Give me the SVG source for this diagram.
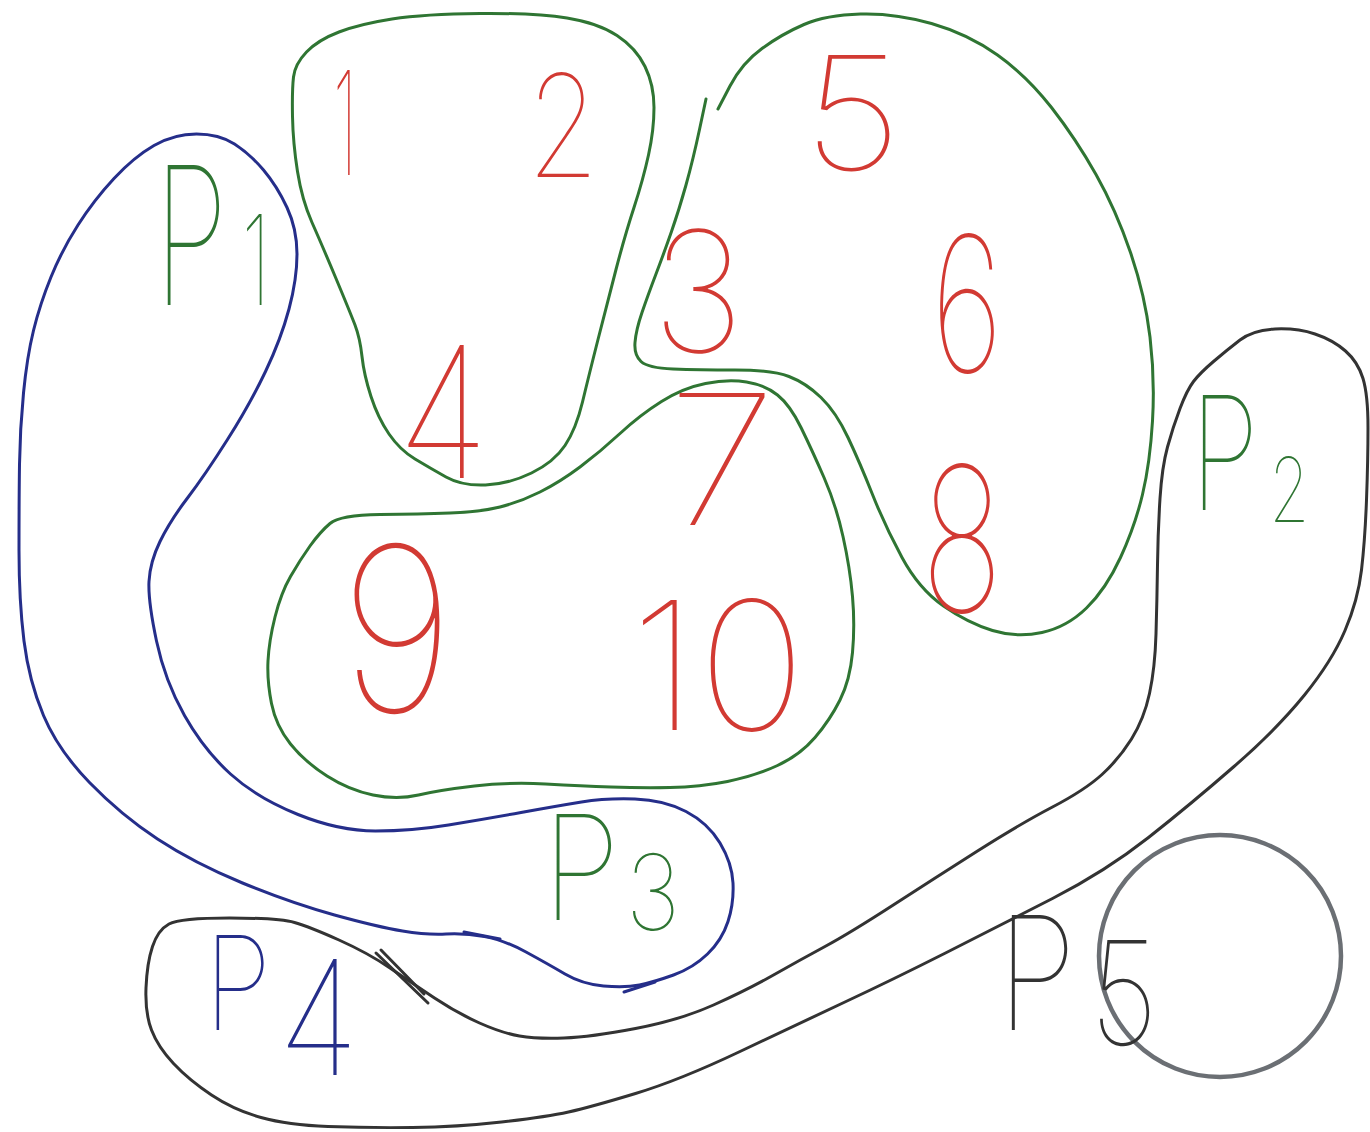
<svg xmlns="http://www.w3.org/2000/svg" width="1370" height="1132" viewBox="0 0 1370 1132">
<style>
.bg{fill:#ffffff}
.ln{fill:none;stroke-width:3;stroke-linecap:round;stroke-linejoin:round}
.green{stroke:#2f7533}
.blue{stroke:#252e8a}
.black{stroke:#333333}
.gray{fill:none;stroke:#6b6f74;stroke-width:4.5}
.t{font-family:"Inter","Lato","Open Sans",sans-serif;font-weight:100}
.red{fill:#d23a33}
.tg{fill:#2f7533}
.tb{fill:#252e8a}
.tk{fill:#333333}
</style>
<rect class="bg" x="0" y="0" width="1370" height="1132"/>
<g id="hyperedges">
  <g id="edge-1-2-4">
    <path class="ln green" d="M293.5,77 Q295,64 306.5,52 Q318,40 339,32 Q360,24 392,19 Q424,14 480,13.5 Q536,13 567,18 Q598,23 617,35.5 Q636,48 645,66.5 Q654,85 654,107.5 Q654,130 648.5,155 Q643,180 634,207.5 Q625,235 616,269.5 Q607,304 598,339.5 Q589,375 582.5,402 Q576,429 565,445.5 Q554,462 531.5,473 Q509,484 485.5,485 Q462,486 446,477 Q430,468 415,459 Q400,450 389,434 Q378,418 371,396.5 Q364,375 362,356.5 Q360,338 355,325 Q350,312 336,278.5 Q322,245 312,222.5 Q302,200 297.5,171.5 Q293,143 292.5,116.5 Q292,90 293.5,77 Z"/>
  </g>
  <g id="edge-3-5-6-8">
    <path class="ln green" d="M706,99 L699.5,129.5 Q693,160 686,185 Q679,210 671.5,231.5 Q664,253 656,274 Q648,295 642,312.5 Q636,330 635,342.5 Q634,355 641,361.5 Q648,368 673,369 Q698,370 735,370 Q772,370 789,376.5 Q806,383 821,397.5 Q836,412 848,437.5 Q860,463 872.5,494.5 Q885,526 902,557.5 Q919,589 943.5,606 Q968,623 992.5,630.5 Q1017,638 1042,632.5 Q1067,627 1086.5,608 Q1106,589 1120.5,557.5 Q1135,526 1142.5,494.5 Q1150,463 1152.5,421 Q1155,379 1150,337 Q1145,295 1130.5,252.5 Q1116,210 1096,174.5 Q1076,139 1051.5,107.5 Q1027,76 997.5,55 Q968,34 931.5,23.5 Q895,13 860.5,14 Q826,15 804,24.5 Q782,34 762,48.5 Q742,63 730,86 L718,109"/>
  </g>
  <g id="edge-7-9-10">
    <path class="ln green" d="M330,523.5 Q340,515 380,514.5 Q420,514 450,513 Q480,512 500,507 Q520,502 540,492 Q560,482 580,467 Q600,452 620,433.5 Q640,415 661.5,401.5 Q683,388 705.5,383.5 Q728,379 746.5,382 Q765,385 777.5,395 Q790,405 801,427.5 Q812,450 824,477.5 Q836,505 843,536.5 Q850,568 852.5,596.5 Q855,625 852.5,652.5 Q850,680 840,700 Q830,720 815,737.5 Q800,755 777.5,765.5 Q755,776 727.5,781.5 Q700,787 670,787.5 Q640,788 611,787 Q582,786 545.5,784 Q509,782 474.5,786 Q440,790 418.5,795 Q397,800 373,795 Q349,790 327,776 Q305,762 290.5,744 Q276,726 271.5,703.5 Q267,681 268,661 Q269,641 275,617 Q281,593 290.5,576.5 Q300,560 310,546 Q320,532 330,523.5 Z"/>
  </g>
  <g id="edge-P1-P3">
    <path class="ln blue" d="M154,145.5 Q174,134 196.5,134 Q219,134 234.5,144 Q250,154 263.5,170 Q277,186 287,207.5 Q297,229 297,254 Q297,279 289,309 Q281,339 265.5,371.5 Q250,404 227.5,439.5 Q205,475 187.5,498 Q170,521 160,541.5 Q150,562 149,581.5 Q148,601 156.5,641 Q165,681 184.5,715.5 Q204,750 230.5,774 Q257,798 298,814.5 Q339,831 375.5,831 Q412,831 448.5,825 Q485,819 521,812.5 Q557,806 581.5,802 Q606,798 635,799 Q664,800 686,811.5 Q708,823 720,843 Q732,863 733,883 Q734,903 728,921.5 Q722,940 707.5,954 Q693,968 673.5,975 Q654,982 639.5,985 Q625,988 603.5,986 Q582,984 565,974 Q548,964 526,952 Q504,940 484.5,936.5 Q465,933 446,934 Q427,935 402.5,931 Q378,927 334.5,915 Q291,903 242.5,883 Q194,863 157.5,839 Q121,815 89.5,782.5 Q58,750 43.5,715.5 Q29,681 24,641 Q19,601 19,550.5 Q19,500 19.5,464.5 Q20,429 23.5,393 Q27,357 33.5,330.5 Q40,304 51,277 Q62,250 78,225 Q94,200 114,178.5 Q134,157 154,145.5 Z"/>
    <path class="ln blue" stroke-width="4.5" d="M464,932 L500,939"/>
    <path class="ln blue" stroke-width="4" d="M624,992 L655,982"/>
  </g>
  <g id="edge-P2-P4-P5">
    <path class="ln black" d="M152.5,946.5 Q158,930 169,924 Q180,918 229.5,918 Q279,918 294.5,922.5 Q310,927 339,940 Q368,953 390,968 Q412,983 434.5,998 Q457,1013 479.5,1023 Q502,1033 519.5,1036 Q537,1039 564,1038 Q591,1037 635.5,1028.5 Q680,1020 713.5,1005 Q747,990 773.5,975 Q800,960 825,946.5 Q850,933 892.5,905.5 Q935,878 977.5,851 Q1020,824 1052.5,807 Q1085,790 1102,774.5 Q1119,759 1131.5,739 Q1144,719 1149.5,693.5 Q1155,668 1156,634 Q1157,600 1157.5,565 Q1158,530 1160,498.5 Q1162,467 1167.5,447 Q1173,427 1180,408.5 Q1187,390 1193.5,381.5 Q1200,373 1213.5,361.5 Q1227,350 1240,340 Q1253,330 1275,329 Q1297,328 1315,334 Q1333,340 1345.5,351 Q1358,362 1363,378.5 Q1368,395 1368,427.5 Q1368,460 1366.5,500 Q1365,540 1361.5,570 Q1358,600 1345,630.5 Q1332,661 1304.5,695 Q1277,729 1234,766.5 Q1191,804 1148.5,837.5 Q1106,871 1052.5,898.5 Q999,926 945.5,953 Q892,980 846,1001.5 Q800,1023 740,1051.5 Q680,1080 635.5,1093.5 Q591,1107 568.5,1112 Q546,1117 501.5,1122 Q457,1127 412.5,1127.5 Q368,1128 328,1126.5 Q288,1125 261,1117.5 Q234,1110 211.5,1095 Q189,1080 173.5,1063.5 Q158,1047 151.5,1030 Q145,1013 146,988 Q147,963 152.5,946.5 Z"/>
    <path class="ln black" d="M376,953 L428,1003 M381,950 L424,994"/>
  </g>
  <g id="circle">
    <circle class="gray" cx="1220" cy="956" r="121"/>
  </g>
</g>
<g id="nodes">
  <g id="node-1"><text class="t red" x="333" y="175" font-size="144" textLength="24" lengthAdjust="spacingAndGlyphs">1</text></g>
  <g id="node-2"><text class="t red" x="527" y="177" font-size="142" textLength="72" lengthAdjust="spacingAndGlyphs">2</text></g>
  <g id="node-5"><text class="t red" x="803" y="170" font-size="158" textLength="99" lengthAdjust="spacingAndGlyphs">5</text></g>
  <g id="node-3"><text class="t red" x="652" y="352" font-size="168" textLength="92" lengthAdjust="spacingAndGlyphs">3</text></g>
  <g id="node-6"><text class="t red" x="931" y="372" font-size="188" textLength="72" lengthAdjust="spacingAndGlyphs">6</text></g>
  <g id="node-4"><text class="t red" x="397" y="478" font-size="183" textLength="92" lengthAdjust="spacingAndGlyphs">4</text></g>
  <g id="node-7"><text class="t red" x="667" y="525" font-size="182" textLength="110" lengthAdjust="spacingAndGlyphs">7</text></g>
  <g id="node-8"><text class="t red" x="921" y="612" font-size="202" textLength="82" lengthAdjust="spacingAndGlyphs">8</text></g>
  <g id="node-9"><text class="t red" x="340" y="712" font-size="230" textLength="114" lengthAdjust="spacingAndGlyphs">9</text></g>
  <g id="node-10"><text class="t red" x="630" y="730" font-size="179" textLength="176" lengthAdjust="spacingAndGlyphs">10</text></g>
</g>
<g id="labels">
  <text class="t tg" transform="translate(154,305) scale(0.63,1)"><tspan x="0" font-size="193">P</tspan><tspan x="139" font-size="125">1</tspan></text>
  <text class="t tg" transform="translate(1190,510) scale(0.72,1)"><tspan x="0" font-size="158">P</tspan><tspan x="110" dy="12" font-size="90">2</tspan></text>
  <text class="t tg" transform="translate(542,920) scale(0.89,1)"><tspan x="0" font-size="145">P</tspan><tspan x="94" dy="10" font-size="105">3</tspan></text>
  <text class="t tb" transform="translate(204,1030) scale(0.85,1)"><tspan x="0" font-size="131">P</tspan><tspan x="87" dy="45" font-size="160">4</tspan></text>
  <text class="t tk" transform="translate(997,1030) scale(0.83,1)"><tspan x="0" font-size="158">P</tspan><tspan x="112" dy="15" font-size="145">5</tspan></text>
</g>
</svg>
